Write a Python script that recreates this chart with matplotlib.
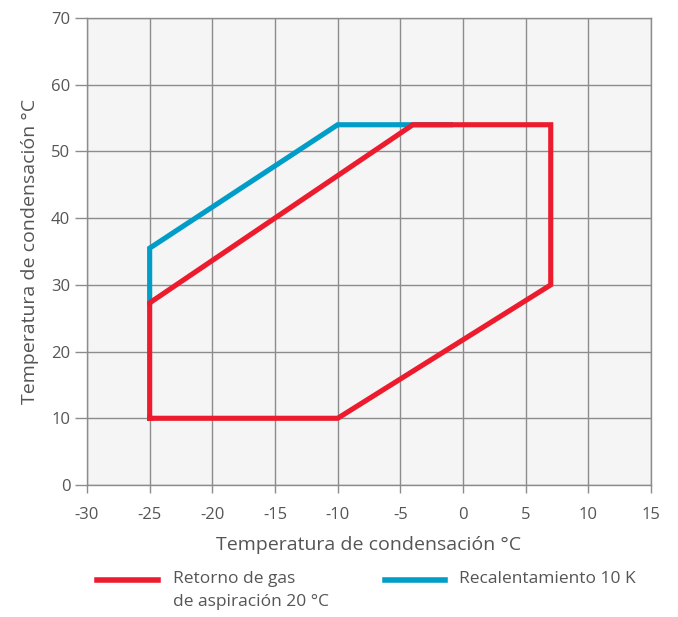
import matplotlib
matplotlib.use("Agg")
import matplotlib.pyplot as plt
from matplotlib.lines import Line2D
from matplotlib.ticker import FuncFormatter

# envelope data (evaporating temp °C, condensing temp °C)
red_x = [-25, -10, 7, 7, -4, -25, -25]
red_y = [10, 10, 30, 54, 54, 27.3, 10]
blue_x = [-25, -25, -10, -1]
blue_y = [27.3, 35.5, 54, 54]

labels = ["Retorno de gas\nde aspiración 20 °C", "Recalentamiento 10 K"]
xticks = list(range(-30, 16, 5))
yticks = list(range(0, 71, 10))

RED = "#ec1c2e"
BLUE = "#009dc8"
TXT = "#555555"
GRID = "#8c8c8c"

plt.rcParams["font.family"] = ["Open Sans", "DejaVu Sans"]

fig = plt.figure(figsize=(6.78, 6.17), dpi=100)
ax = fig.add_axes([87 / 678, 1 - 485 / 617, (651 - 87) / 678, (485 - 18) / 617])
ax.set_facecolor("#f5f5f5")

ax.plot(blue_x, blue_y, color=BLUE, lw=3.7, solid_joinstyle="miter", zorder=3)
ax.plot(red_x, red_y, color=RED, lw=3.7, solid_joinstyle="miter", zorder=4)

ax.set_xlim(-30, 15)
ax.set_ylim(0, 70)
ax.set_xticks(xticks)
ax.set_yticks(yticks)
fmt = FuncFormatter(lambda v, _: f"{v:.0f}")
ax.xaxis.set_major_formatter(fmt)
ax.yaxis.set_major_formatter(fmt)
ax.grid(True, color=GRID, lw=1.0, zorder=1)
ax.set_axisbelow(True)
for s in ax.spines.values():
    s.set_color(GRID)
    s.set_linewidth(1.0)
ax.tick_params(colors=GRID, labelcolor=TXT, labelsize=12, width=1.0)
ax.tick_params(axis="x", length=6, pad=10)
ax.tick_params(axis="y", length=9, pad=3)

ax.set_xlabel("Temperatura de condensación °C", fontsize=14, color=TXT, labelpad=9)
ax.set_ylabel("Temperatura de condensación °C", fontsize=14, color=TXT, labelpad=9)

# legend drawn below the axes
fig.add_artist(Line2D([97 / 678, 158 / 678], [1 - 580 / 617] * 2, color=RED, lw=4))
fig.text(173 / 678, 1 - 571 / 617, labels[0], fontsize=12.5, color=TXT, va="top",
         linespacing=1.55)
fig.add_artist(Line2D([385 / 678, 445 / 678], [1 - 580 / 617] * 2, color=BLUE, lw=4))
fig.text(459 / 678, 1 - 571 / 617, labels[1], fontsize=12.5, color=TXT, va="top")

fig.savefig("out.png", dpi=100)
